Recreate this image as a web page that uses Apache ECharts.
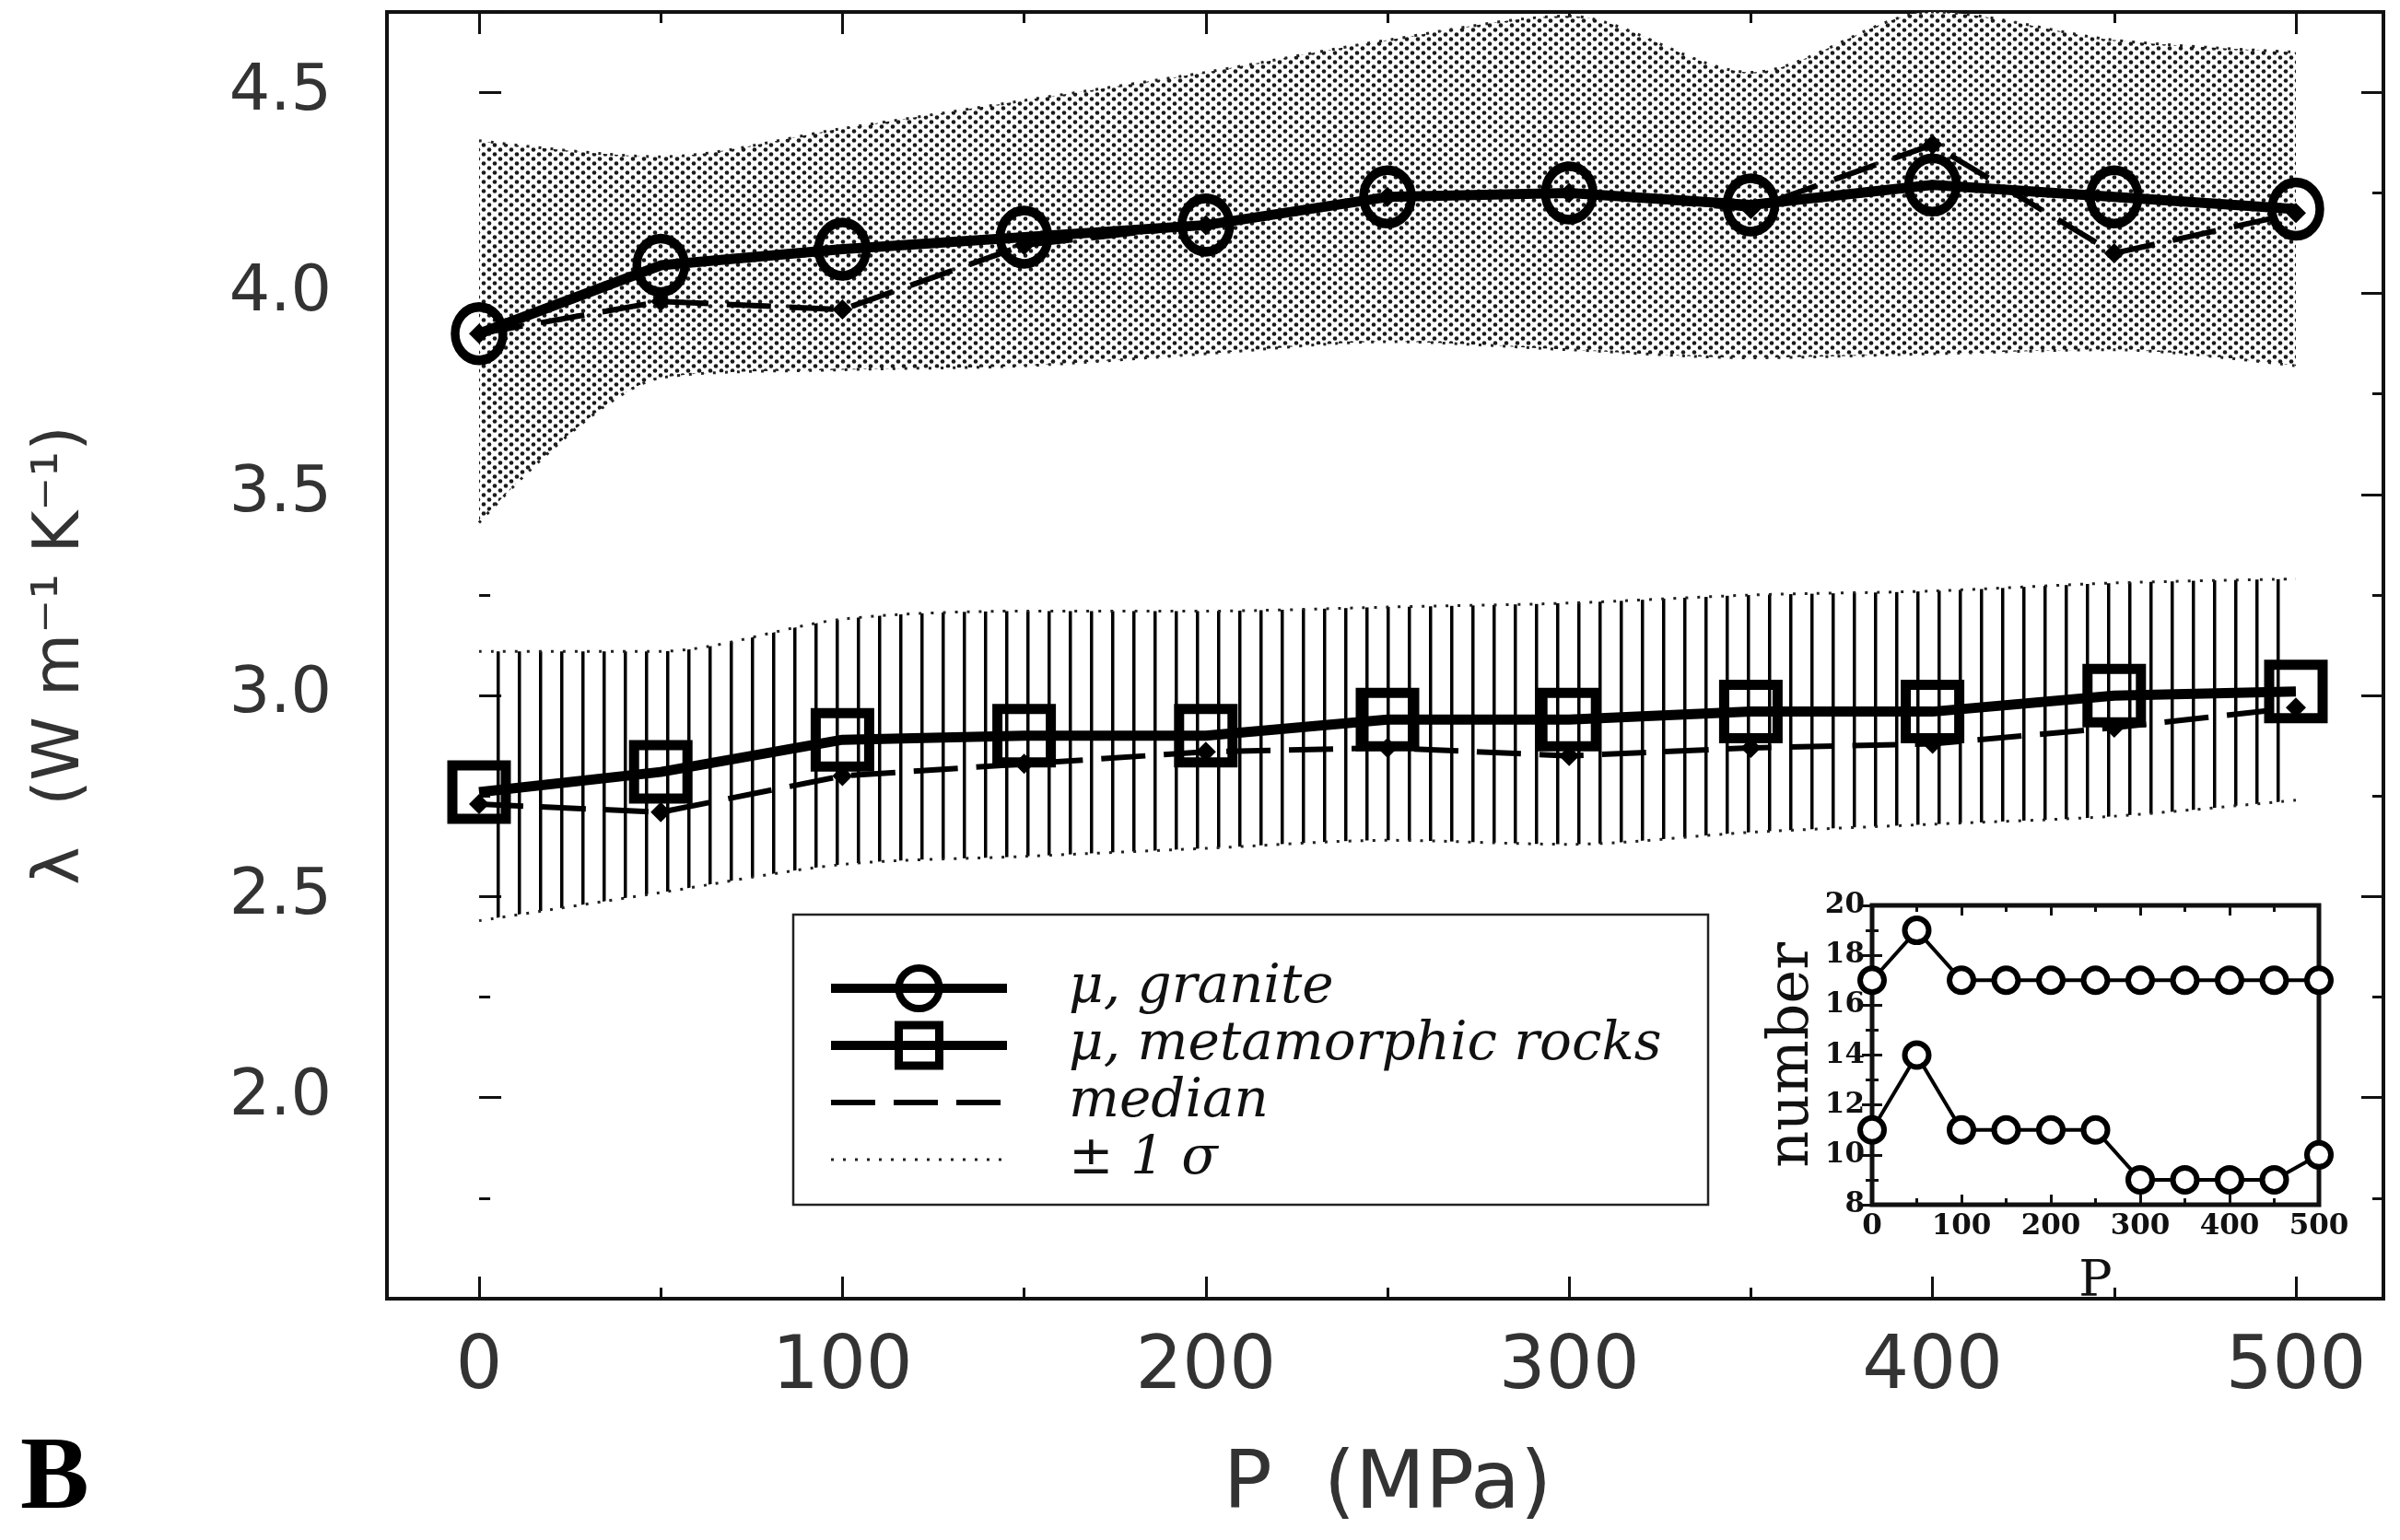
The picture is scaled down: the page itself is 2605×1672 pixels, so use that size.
<!DOCTYPE html>
<html>
<head>
<meta charset="utf-8">
<script src="https://cdn.jsdelivr.net/npm/echarts@6/dist/echarts.min.js"></script>
<style>
  html, body { margin: 0; padding: 0; background: #fff; }
  #chart { width: 2605px; height: 1672px; }
</style>
</head>
<body>
<div id="chart"></div>
<script>
// pressure steps (MPa)
const pressure = [0, 50, 100, 150, 200, 250, 300, 350, 400, 450, 500]

// granite, thermal conductivity (W m-1 K-1)
const graniteMean   = [3.90, 4.07, 4.11, 4.14, 4.17, 4.24, 4.25, 4.22, 4.27, 4.24, 4.21]
const graniteMedian = [3.90, 3.98, 3.96, 4.12, 4.17, 4.24, 4.25, 4.21, 4.37, 4.10, 4.20]
const graniteUpper  = [4.38, 4.34, 4.41, 4.48, 4.55, 4.63, 4.69, 4.55, 4.70, 4.63, 4.60]
const graniteLower  = [3.43, 3.79, 3.81, 3.82, 3.85, 3.88, 3.86, 3.84, 3.85, 3.86, 3.82]

// metamorphic rocks
const metaMean   = [2.76, 2.81, 2.89, 2.90, 2.90, 2.94, 2.94, 2.96, 2.96, 3.00, 3.01]
const metaMedian = [2.73, 2.71, 2.80, 2.83, 2.86, 2.87, 2.85, 2.87, 2.88, 2.92, 2.97]
const metaUpper  = [3.11, 3.11, 3.19, 3.21, 3.21, 3.22, 3.23, 3.25, 3.26, 3.28, 3.29]
const metaLower  = [2.44, 2.51, 2.58, 2.60, 2.62, 2.64, 2.63, 2.66, 2.68, 2.70, 2.74]

// inset: number of samples
const countUpper = [17, 19, 17, 17, 17, 17, 17, 17, 17, 17, 17]
const countLower = [11, 14, 11, 11, 11, 11, 9, 9, 9, 9, 10]

// axis ranges
const xRange = [0, 500]
const yRange = [1.5, 4.7]
const yTickLabels = ['2.0', '2.5', '3.0', '3.5', '4.0', '4.5']
const insetYRange = [8, 20]

const pairs = (ys) => pressure.map((p, i) => [p, ys[i]])
const diff = (hi, lo) => hi.map((v, i) => +(v - lo[i]).toFixed(3))

function stipple() {
  const c = document.createElement('canvas')
  c.width = 12; c.height = 10
  const g = c.getContext('2d')
  g.fillStyle = '#fff'
  g.fillRect(0, 0, 12, 10)
  g.fillStyle = '#1a1a1a'
  ;[[3, 2.5], [9, 7.5]].forEach(([x, y]) => {
    g.beginPath(); g.arc(x, y, 2.3, 0, Math.PI * 2); g.fill()
  })
  return c
}

function hatch() {
  const c = document.createElement('canvas')
  c.width = 23; c.height = 12
  const g = c.getContext('2d')
  g.fillStyle = '#000'
  g.fillRect(10, 0, 3.5, 12)
  return c
}

const black = '#111'
const tickFont = { fontFamily: 'DejaVu Sans', color: '#333' }

const mainTicks = {
  axisLine: { show: false },
  axisTick: { show: true, inside: true, length: 24, lineStyle: { color: black, width: 3 } },
  minorTick: { show: true, splitNumber: 2, length: 12, lineStyle: { color: black, width: 3 } },
  splitLine: { show: false }
}

const insetTicks = {
  axisLine: { show: false },
  axisTick: { show: true, inside: true, length: 11, lineStyle: { color: black, width: 3 } },
  minorTick: { show: true, splitNumber: 2, length: 7, lineStyle: { color: black, width: 3 } },
  splitLine: { show: false }
}

const dotted = { color: '#222', width: 3, type: [3, 10] }
const dashed = { color: '#000', width: 6, type: [48, 20] }
const openMark = (w) => ({ color: 'rgba(255,255,255,0)', borderColor: '#000', borderWidth: w })

// series on the data grid use the hidden category axis (index 5) so that stacking works per point
const onData = { xAxisIndex: 5, yAxisIndex: 2 }

const chart = echarts.init(document.getElementById('chart'))

chart.setOption({
  animation: false,
  backgroundColor: '#fff',
  grid: [
    // frame
    { left: 420, right: 18, top: 13, bottom: 262, show: true, borderColor: black, borderWidth: 4 },
    // data area, 0..500 MPa
    { left: 520, right: 113, top: 13, bottom: 262 },
    // inset
    { left: 2032, right: 88, top: 983, bottom: 364, show: true, backgroundColor: '#fff', borderColor: black, borderWidth: 5, z: 5 }
  ],
  xAxis: [
    { gridIndex: 0, type: 'value', min: -25.4, max: 524.6, show: false },
    {
      gridIndex: 1, type: 'value', min: xRange[0], max: xRange[1], interval: 100, ...mainTicks,
      axisLabel: { ...tickFont, fontSize: 80, margin: 36 },
      name: 'P  (MPa)', nameLocation: 'middle', nameGap: 160,
      nameTextStyle: { ...tickFont, fontSize: 88 }
    },
    {
      gridIndex: 1, type: 'value', position: 'top', min: xRange[0], max: xRange[1], interval: 100, ...mainTicks,
      axisLabel: { show: false }
    },
    {
      gridIndex: 2, type: 'value', min: 0, max: 500, interval: 100, ...insetTicks, z: 6,
      axisLabel: { fontFamily: 'DejaVu Serif', fontWeight: 'bold', fontSize: 31, color: black, margin: 8 },
      name: 'P', nameLocation: 'middle', nameGap: 58,
      nameTextStyle: { fontFamily: 'DejaVu Serif', fontSize: 54, color: black }
    },
    {
      gridIndex: 2, type: 'value', position: 'top', min: 0, max: 500, interval: 100, ...insetTicks, z: 6,
      axisLabel: { show: false }
    },
    {
      gridIndex: 1, type: 'category', data: pressure.map(String), boundaryGap: false, show: false
    }
  ],
  yAxis: [
    {
      gridIndex: 0, type: 'value', min: yRange[0], max: yRange[1], interval: 0.5, ...mainTicks,
      axisLabel: {
        ...tickFont, fontSize: 70, margin: 60,
        formatter: (v) => (yTickLabels.includes(v.toFixed(1)) ? v.toFixed(1) : '')
      },
      name: 'λ  (W m⁻¹ K⁻¹)', nameLocation: 'middle', nameRotate: 90, nameGap: 318,
      nameTextStyle: { ...tickFont, fontSize: 70 }
    },
    {
      gridIndex: 0, type: 'value', position: 'right', min: yRange[0], max: yRange[1], interval: 0.5, ...mainTicks,
      axisLabel: { show: false }
    },
    { gridIndex: 1, type: 'value', min: yRange[0], max: yRange[1], show: false },
    {
      gridIndex: 2, type: 'value', min: insetYRange[0], max: insetYRange[1], interval: 2, ...insetTicks, z: 6,
      axisLabel: { fontFamily: 'DejaVu Serif', fontWeight: 'bold', fontSize: 31, color: black, margin: 8 },
      name: 'number', nameLocation: 'middle', nameRotate: 90, nameGap: 50,
      nameTextStyle: { fontFamily: 'DejaVu Serif', fontSize: 62, color: black }
    },
    {
      gridIndex: 2, type: 'value', position: 'right', min: insetYRange[0], max: insetYRange[1], interval: 2, ...insetTicks, z: 6,
      axisLabel: { show: false }
    }
  ],
  legend: {
    left: 897, top: 1044, orient: 'vertical', padding: 0,
    itemWidth: 191, itemHeight: 55, itemGap: 4,
    selectedMode: false,
    textStyle: { fontFamily: 'DejaVu Serif', fontStyle: 'italic', fontSize: 58, color: black, padding: [0, 0, 0, 62] },
    data: [
      { name: 'μ, granite', lineStyle: { color: '#000', width: 10, type: 'solid' }, itemStyle: openMark(8) },
      { name: 'μ, metamorphic rocks', lineStyle: { color: '#000', width: 10, type: 'solid' }, itemStyle: openMark(9) },
      { name: 'median', lineStyle: dashed, itemStyle: { opacity: 0 } },
      { name: '± 1 σ', lineStyle: dotted, itemStyle: { opacity: 0 } }
    ]
  },
  graphic: [
    {
      type: 'rect', z: 1,
      shape: { x: 861, y: 993, width: 993, height: 315 },
      style: { fill: '#fff', stroke: '#222', lineWidth: 2.5 }
    },
    {
      type: 'text', x: 22, y: 1608,
      style: { text: 'B', font: 'bold 112px "Liberation Serif"', fill: '#000', verticalAlign: 'middle' }
    }
  ],
  series: [
    // ±1σ bands
    {
      name: '± 1 σ', type: 'line', ...onData, stack: 'granite',
      data: graniteLower, symbol: 'none', smooth: 0.3, lineStyle: dotted
    },
    {
      name: '± 1 σ band', type: 'line', ...onData, stack: 'granite',
      data: diff(graniteUpper, graniteLower), symbol: 'none', smooth: 0.3, lineStyle: dotted,
      areaStyle: { color: { image: stipple(), repeat: 'repeat' }, opacity: 1 }
    },
    {
      name: '± 1 σ', type: 'line', ...onData, stack: 'meta',
      data: metaLower, symbol: 'none', smooth: 0.3, lineStyle: dotted
    },
    {
      name: '± 1 σ band', type: 'line', ...onData, stack: 'meta',
      data: diff(metaUpper, metaLower), symbol: 'none', smooth: 0.3, lineStyle: dotted,
      areaStyle: { color: { image: hatch(), repeat: 'repeat' }, opacity: 1 }
    },
    // medians
    {
      name: 'median', type: 'line', ...onData, clip: false,
      data: graniteMedian, symbol: 'diamond', symbolSize: 22,
      itemStyle: { color: '#000' }, lineStyle: dashed
    },
    {
      name: 'median', type: 'line', ...onData, clip: false,
      data: metaMedian, symbol: 'diamond', symbolSize: 22,
      itemStyle: { color: '#000' }, lineStyle: dashed
    },
    // means
    {
      name: 'μ, granite', type: 'line', ...onData, clip: false,
      data: graniteMean, symbol: 'circle', symbolSize: [52, 58],
      itemStyle: openMark(10), lineStyle: { color: '#000', width: 11 }
    },
    {
      name: 'μ, metamorphic rocks', type: 'line', ...onData, clip: false,
      data: metaMean, symbol: 'rect', symbolSize: 58,
      itemStyle: openMark(11), lineStyle: { color: '#000', width: 11 }
    },
    // inset
    {
      name: 'count upper', type: 'line', xAxisIndex: 3, yAxisIndex: 3, z: 7,
      data: pairs(countUpper), symbol: 'circle', symbolSize: 26,
      itemStyle: { color: '#fff', borderColor: '#000', borderWidth: 6 },
      lineStyle: { color: '#000', width: 4 }
    },
    {
      name: 'count lower', type: 'line', xAxisIndex: 3, yAxisIndex: 3, z: 7,
      data: pairs(countLower), symbol: 'circle', symbolSize: 26,
      itemStyle: { color: '#fff', borderColor: '#000', borderWidth: 6 },
      lineStyle: { color: '#000', width: 4 }
    }
  ]
})
</script>
</body>
</html>
